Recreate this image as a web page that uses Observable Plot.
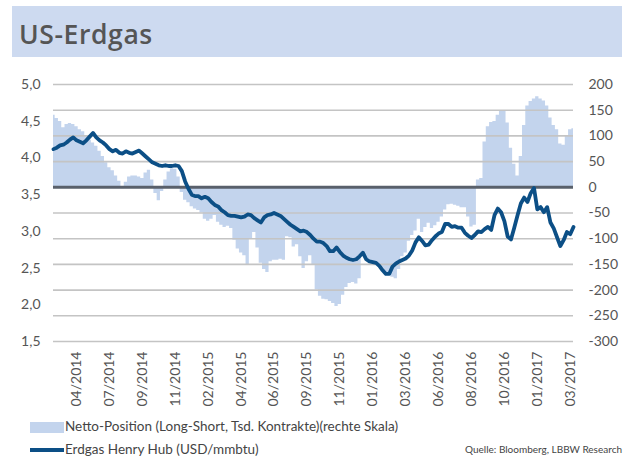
<!DOCTYPE html>
<html>
<head>
<meta charset="utf-8">
<script src="https://cdn.jsdelivr.net/npm/d3@7"></script>
<script src="https://cdn.jsdelivr.net/npm/@observablehq/plot@0.6"></script>
<style>
  html, body { margin: 0; padding: 0; background: #fff; }
  #wrap { position: relative; width: 634px; height: 461px; overflow: hidden; font-family: Lato, "Open Sans", sans-serif; }
  #title { position: absolute; left: 12px; top: 6px; width: 610px; height: 51px; background: #cddaf0; }
  #title span { position: absolute; left: 7px; top: 10px; font-size: 26.5px; font-weight: 600; color: #555; font-family: "Open Sans", Lato, sans-serif; letter-spacing: 0.6px; }
  #chart { position: absolute; left: 0; top: 60px; }
  .leg { position: absolute; font-size: 13.5px; color: #444; white-space: nowrap; }
  .sw { position: absolute; }
  #src { position: absolute; right: 12px; top: 443px; font-size: 10px; color: #444; }
</style>
</head>
<body>
<div id="wrap">
  <div id="title"><span>US-Erdgas</span></div>
  <div id="chart"></div>
  <div class="sw" style="left:30px; top:422px; width:34px; height:11px; background:#c3d4ed;"></div>
  <div class="leg" style="left:65px; top:418px;">Netto-Position (Long-Short, Tsd. Kontrakte)(rechte Skala)</div>
  <div class="sw" style="left:30px; top:448px; width:34px; height:4px; background:#0c4f86;"></div>
  <div class="leg" style="left:65px; top:441px;">Erdgas Henry Hub (USD/mmbtu)</div>
  <div id="src">Quelle: Bloomberg, LBBW Research</div>
</div>
<script>
// Weekly observations (Tuesdays), starting 2014-03-11
const startDate = "2014-03-11";

// Henry Hub price, USD/mmbtu (left scale)
const price = [
  4.12, 4.14, 4.17, 4.18, 4.21, 4.25, 4.28, 4.24, 4.22, 4.20,
  4.24, 4.29, 4.34, 4.28, 4.24, 4.21, 4.17, 4.12, 4.09, 4.11,
  4.07, 4.06, 4.09, 4.07, 4.06, 4.08, 4.10, 4.06, 4.02, 3.98,
  3.94, 3.92, 3.90, 3.89, 3.90, 3.89, 3.89, 3.90, 3.89, 3.82,
  3.68, 3.58, 3.50, 3.48, 3.48, 3.45, 3.47, 3.45, 3.40, 3.36,
  3.34, 3.29, 3.26, 3.22, 3.21, 3.21, 3.20, 3.19, 3.20, 3.23,
  3.22, 3.18, 3.15, 3.12, 3.19, 3.22, 3.23, 3.25, 3.23, 3.21,
  3.17, 3.13, 3.09, 3.06, 3.03, 3.00, 3.01, 2.99, 2.95, 2.90,
  2.86, 2.86, 2.84, 2.80, 2.73, 2.73, 2.78, 2.72, 2.67, 2.64,
  2.62, 2.61, 2.62, 2.66, 2.71, 2.62, 2.59, 2.58, 2.57, 2.53,
  2.47, 2.42, 2.42, 2.52, 2.56, 2.59, 2.61, 2.63, 2.67, 2.74,
  2.85, 2.92, 2.87, 2.81, 2.82, 2.88, 2.93, 2.97, 2.99, 3.10,
  3.10, 3.06, 3.07, 3.05, 3.05, 2.98, 2.94, 2.91, 2.95, 3.00,
  2.99, 3.03, 3.06, 3.02, 3.22, 3.31, 3.26, 3.14, 2.93, 2.89,
  3.05, 3.22, 3.38, 3.46, 3.40, 3.52, 3.59, 3.30, 3.33, 3.26,
  3.33, 3.12, 3.04, 2.92, 2.80, 2.88, 2.99, 2.96, 3.06
];

// Net position (long - short), thousand contracts (right scale)
const netPosition = [
  140, 134, 128, 116, 122, 124, 122, 118, 112, 108,
  100, 92, 86, 80, 70, 60, 48, 38, 32, 22,
  12, -3, 10, 20, 22, 22, 20, 17, 28, 33,
  14, -12, -26, -8, 14, 30, 36, 35, 20, -10,
  -25, -30, -38, -42, -45, -50, -62, -66, -62, -55,
  -68, -74, -78, -76, -80, -103, -120, -128, -133, -150,
  -100, -88, -118, -148, -160, -166, -145, -142, -142, -140,
  -142, -96, -98, -116, -112, -135, -158, -145, -133, -150,
  -200, -212, -218, -219, -222, -226, -232, -228, -210, -195,
  -187, -185, -188, -178, -132, -140, -142, -145, -150, -155,
  -162, -170, -166, -175, -178, -160, -135, -128, -105, -94,
  -85, -62, -88, -78, -70, -80, -75, -68, -58, -44,
  -34, -33, -35, -37, -40, -40, -58, -77, -74, 14,
  17, 88, 118, 126, 128, 140, 148, 148, 125, 76,
  45, 22, 60, 120, 158, 167, 172, 176, 172, 168,
  158, 135, 120, 112, 84, 82, 100, 112, 114
];

// Axis ticks
const xTickDates = ["2014-04-29","2014-07-08","2014-09-16","2014-11-25","2015-02-03","2015-04-14",
  "2015-06-23","2015-09-01","2015-11-10","2016-01-19","2016-03-29","2016-06-07","2016-08-16",
  "2016-10-25","2017-01-03","2017-03-14"];
const leftTicks = [1.5, 2.0, 2.5, 3.0, 3.5, 4.0, 4.5, 5.0];
const rightTicks = [-300, -250, -200, -150, -100, -50, 0, 50, 100, 150, 200];
const leftDomain = [1.5, 5.0];
const rightDomain = [-300, 200];

// map left-scale (price) onto the right-scale units
const toRight = p => rightDomain[0] + (p - leftDomain[0]) / (leftDomain[1] - leftDomain[0]) * (rightDomain[1] - rightDomain[0]);
const fromRight = r => leftDomain[0] + (r - rightDomain[0]) / (rightDomain[1] - rightDomain[0]) * (leftDomain[1] - leftDomain[0]);

const t0 = new Date(startDate + "T00:00:00Z");
const rows = price.map((p, i) => ({
  date: d3.utcDay.offset(t0, 7 * i),
  price: p,
  net: netPosition[i]
}));
const xTicks = xTickDates.map(s => new Date(s + "T00:00:00Z"));

const fmtDate = d3.utcFormat("%m/%Y");
const fmtLeft = v => d3.format(".1f")(fromRight(v)).replace(".", ",");

const plot = Plot.plot({
  width: 634,
  height: 355,
  marginTop: 24,
  marginBottom: 74,
  marginLeft: 53,
  marginRight: 61,
  style: { fontFamily: "Lato, 'Open Sans', sans-serif", fontSize: "14px", color: "#555", background: "transparent" },
  x: { type: "utc", domain: [rows[0].date, rows[rows.length - 1].date] },
  y: { domain: rightDomain },
  marks: [
    Plot.areaY(rows, { x: "date", y: "net", curve: "step", fill: "#c3d4ed" }),
    Plot.gridY(rightTicks, { stroke: "#c4c4c4", strokeOpacity: 1, strokeWidth: 1.6 }),
    Plot.ruleY([0], { stroke: "#59606b", strokeWidth: 3 }),
    Plot.lineY(rows, { x: "date", y: d => toRight(d.price), stroke: "#0c4f86", strokeWidth: 3.8, strokeLinejoin: "round" }),
    Plot.axisY(rightTicks, { anchor: "right", tickSize: 0, tickPadding: 15, label: null, textAnchor: "start", tickFormat: d => String(d), fill: "#555" }),
    Plot.axisY(leftTicks.map(toRight), { anchor: "left", tickSize: 0, tickPadding: 13, label: null, tickFormat: fmtLeft, fill: "#555" }),
    Plot.axisX(xTicks, { anchor: "bottom", tickSize: 0, tickPadding: 10, tickRotate: -90, label: null, tickFormat: fmtDate, fill: "#555" })
  ]
});
document.getElementById("chart").appendChild(plot);
</script>
</body>
</html>
